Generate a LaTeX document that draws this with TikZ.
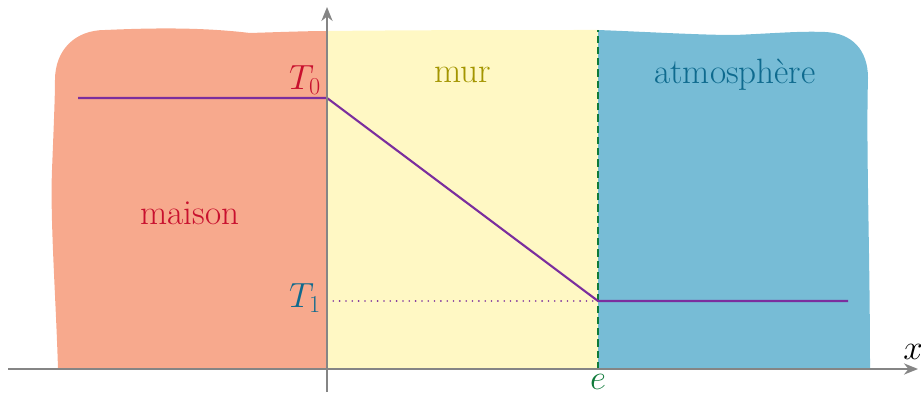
\documentclass[tikz,border=0pt]{standalone}
\usetikzlibrary{arrows.meta}
\definecolor{orangefill}{HTML}{F7A98D}
\definecolor{yellowfill}{HTML}{FFF8C4}
\definecolor{bluefill}{HTML}{77BCD6}
\definecolor{purpleline}{HTML}{7B2E9E}
\definecolor{redtext}{HTML}{C8102E}
\definecolor{bluetext}{HTML}{0E6A8E}
\definecolor{olivetext}{HTML}{A39500}
\definecolor{greenline}{HTML}{0F7A3A}
\definecolor{axisgray}{HTML}{858585}
\begin{document}
\begin{tikzpicture}[x=0.025cm,y=-0.025cm,
  lbl/.style={inner sep=0pt,font=\fontsize{25}{30}\selectfont},
  axisline/.style={draw=axisgray,line width=1.3pt,-{Stealth[length=10pt,width=8pt]}},
  profile/.style={draw=purpleline,line width=1.5pt}]
\useasboundingbox (0,0) rectangle (921,394);
% regions
\fill[orangefill] (327,369) -- (58,369) .. controls (56,300) and (50,220) .. (52,170)
  .. controls (54,120) and (55,95) .. (55,80) .. controls (55,50) and (75,30) .. (105,30)
  .. controls (150,28) and (200,27) .. (250,33) .. controls (280,32) and (310,31) .. (327,31) -- cycle;
\fill[yellowfill] (327,369) -- (327,31) .. controls (420,30) and (520,30) .. (598,30) -- (598,369) -- cycle;
\fill[bluefill] (598,369) -- (598,30) .. controls (650,32) and (700,35) .. (735,35)
  .. controls (780,33) and (800,31) .. (825,32) .. controls (852,33) and (868,50) .. (868,78)
  .. controls (866,150) and (870,250) .. (870,369) -- cycle;
% coordinates
\coordinate (xs) at (8,369);
\coordinate (xe) at (918,369);
\coordinate (ys) at (327,392);
\coordinate (ye) at (327,7);
\coordinate (A) at (78,98);
\coordinate (O0) at (327,98);
\coordinate (E1) at (598,301);
\coordinate (B) at (848,301);
\coordinate (O1) at (327,301);
\coordinate (Etop) at (598,30);
\coordinate (Ebot) at (598,369);
% wall boundary
\draw[greenline,line width=1.4pt,dash pattern=on 5pt off 3pt] (Ebot) -- (Etop);
% dotted
\draw[purpleline,line width=1.3pt,line cap=round,dash pattern=on 0pt off 4.5pt] (O1) -- (E1);
% profile
\draw[profile] (A) -- (O0) -- (E1) -- (B);
% axes
\draw[axisline] (xs) -- (xe);
\draw[axisline] (ys) -- (ye);
% labels
\node[lbl,text=redtext] (t0) at (305,80) {$T_0$};
\node[lbl,text=bluetext] (t1) at (305,298) {$T_1$};
\node[lbl,text=greenline] (e) at (598,382) {$e$};
\node[lbl] (x) at (913,352) {$x$};
\node[lbl,text=olivetext] (mur) at (463,75) {mur};
\node[lbl,text=redtext] (maison) at (190,213) {maison};
\node[lbl,text=bluetext] (atm) at (735,75) {atmosphère};
\end{tikzpicture}
\end{document}
